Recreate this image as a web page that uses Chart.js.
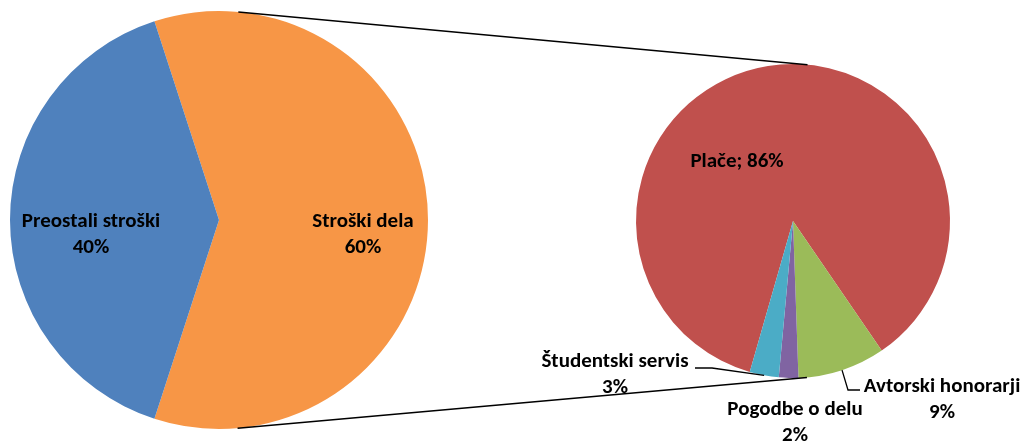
<!DOCTYPE html>
<html>
<head>
<meta charset="utf-8">
<script src="https://cdn.jsdelivr.net/npm/chart.js@4"></script>
<style>
    body { margin: 0; background: #ffffff; }
    .wrap { position: relative; width: 1027px; height: 441px; }
    .wrap canvas { position: absolute; left: 0; top: 0; }
</style>
</head>
<body>
<div class="wrap">
    <canvas id="mainPie" width="1027" height="441"></canvas>
    <canvas id="detailPie" width="1027" height="441"></canvas>
</div>
<script>
// ---------- Data ----------

const costGroups = ["Stroški dela", "Preostali stroški"];
const costShares = [60, 40];

const laborItems = ["Plače", "Avtorski honorarji", "Pogodbe o delu", "Študentski servis"];
const laborShares = [86, 9, 2, 3];

// ---------- Styles ----------

const costColors = ["#F79646", "#4F81BD"];
const laborColors = ["#C0504D", "#9BBB59", "#8064A2", "#4BACC6"];

const LABEL_FONT = "bold 21px Carlito, Lato, sans-serif";
const LINE_H = 26;

// label spots, px from the pie centre; leader = knee + end of the pointer line
const costSpots = [
    { x: 144, y: 15 },
    { x: -128, y: 15 }
];

const laborSpots = [
    { x: -56, y: -59, oneLine: true },
    { x: 149, y: 179, leader: [[55, 169], [67, 169]] },
    { x: 2, y: 202 },
    { x: -178, y: 154, leader: [[-81, 147], [-98, 147]] }
];

function percent(values, i) {
    const total = values.reduce((a, b) => a + b, 0);
    return Math.round(values[i] / total * 100) + "%";
}

function drawText(ctx, lines, x, y) {
    ctx.save();
    ctx.font = LABEL_FONT;
    ctx.fillStyle = "#000000";
    ctx.textAlign = "center";
    ctx.textBaseline = "middle";
    const top = y - (lines.length - 1) * LINE_H / 2;
    lines.forEach((t, i) => ctx.fillText(t, x, top + i * LINE_H));
    ctx.restore();
}

// ---------- Slice labels ----------

function labelPlugin(spots) {
    return {
        id: "sliceLabels",
        afterDatasetsDraw(chart) {
            const ctx = chart.ctx;
            const values = chart.data.datasets[0].data;
            const labels = chart.data.labels;
            chart.getDatasetMeta(0).data.forEach((arc, i) => {
                const spot = spots[i];
                const cx = arc.x, cy = arc.y;

                if (spot.leader) {
                    const mid = (arc.startAngle + arc.endAngle) / 2;
                    ctx.save();
                    ctx.strokeStyle = "#000000";
                    ctx.lineWidth = 1.3;
                    ctx.beginPath();
                    ctx.moveTo(cx + Math.cos(mid) * arc.outerRadius, cy + Math.sin(mid) * arc.outerRadius);
                    spot.leader.forEach(p => ctx.lineTo(cx + p[0], cy + p[1]));
                    ctx.stroke();
                    ctx.restore();
                }

                const pct = percent(values, i);
                const lines = spot.oneLine ? [labels[i] + "; " + pct] : [labels[i], pct];
                drawText(ctx, lines, cx + spot.x, cy + spot.y);
            });
        }
    };
}

// ---------- Connector lines between the pies ----------

let mainChart = null;

const connectorPlugin = {
    id: "connectors",
    afterDraw(chart) {
        if (!mainChart) return;
        const a = mainChart.getDatasetMeta(0).data[0];
        const b = chart.getDatasetMeta(0).data[0];
        const dx = b.x - a.x, dy = b.y - a.y;
        const dist = Math.hypot(dx, dy);
        const theta = Math.atan2(dy, dx);
        const alpha = Math.acos((a.outerRadius - b.outerRadius) / dist);

        const ctx = chart.ctx;
        ctx.save();
        ctx.strokeStyle = "#000000";
        ctx.lineWidth = 1.5;
        [theta - alpha, theta + alpha].forEach(n => {
            ctx.beginPath();
            ctx.moveTo(a.x + Math.cos(n) * a.outerRadius, a.y + Math.sin(n) * a.outerRadius);
            ctx.lineTo(b.x + Math.cos(n) * b.outerRadius, b.y + Math.sin(n) * b.outerRadius);
            ctx.stroke();
        });
        ctx.restore();
    }
};

function pieOptions(padding, rotation) {
    return {
        responsive: false,
        animation: false,
        rotation: rotation,
        layout: { padding: padding },
        plugins: {
            legend: { display: false },
            tooltip: { enabled: false }
        },
        events: []
    };
}

// ---------- Main pie ----------

mainChart = new Chart(document.getElementById("mainPie"), {
    type: "pie",
    data: {
        labels: costGroups,
        datasets: [{
            data: costShares,
            backgroundColor: costColors,
            borderWidth: 0,
            offset: 0,
            hoverOffset: 0
        }]
    },
    options: pieOptions({ left: 10, right: 599, top: 11, bottom: 12 }, -18),
    plugins: [labelPlugin(costSpots)]
});

// ---------- Breakdown of labour costs ----------

new Chart(document.getElementById("detailPie"), {
    type: "pie",
    data: {
        labels: laborItems,
        datasets: [{
            data: laborShares,
            backgroundColor: laborColors,
            borderWidth: 0,
            offset: 0,
            hoverOffset: 0
        }]
    },
    options: pieOptions({ left: 636, right: 77, top: 64, bottom: 63 }, 196),
    plugins: [labelPlugin(laborSpots), connectorPlugin]
});
</script>
</body>
</html>
